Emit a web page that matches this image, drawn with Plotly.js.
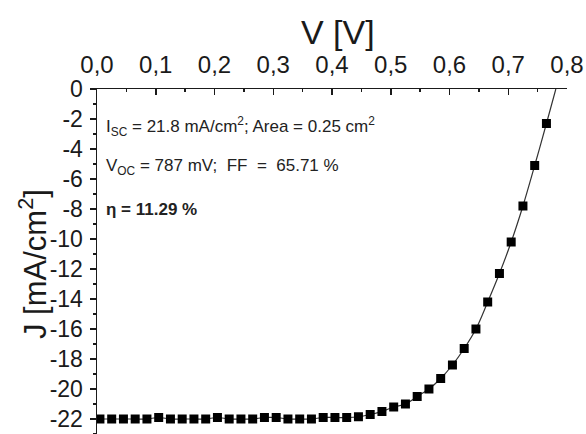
<!DOCTYPE html>
<html>
<head>
<meta charset="utf-8">
<script src="https://cdn.plot.ly/plotly-3.0.1.min.js"></script>
<style>html,body{margin:0;padding:0;background:#fff;}#chart{width:586px;height:434px;}</style>
</head>
<body>
<div id="chart"></div>
<script>
// Measured J-V points (V in volts, J in mA/cm^2)
const voltage = [0.005,0.025,0.045,0.065,0.085,0.105,0.125,0.145,0.165,0.185,0.205,0.225,0.245,0.265,0.285,0.305,0.325,0.345,0.365,0.385,0.405,0.425,0.445,0.465,0.485,0.505,0.525,0.545,0.565,0.585,0.605,0.625,0.645,0.665,0.685,0.705,0.725,0.745,0.765];
const current = [-22.0,-22.0,-22.0,-22.0,-22.0,-21.9,-22.0,-22.0,-22.0,-22.0,-21.9,-22.0,-22.0,-22.0,-21.9,-21.9,-22.0,-22.0,-22.0,-21.9,-21.9,-21.9,-21.85,-21.7,-21.5,-21.2,-21.0,-20.5,-20.0,-19.3,-18.4,-17.3,-16.0,-14.2,-12.3,-10.2,-7.8,-5.1,-2.3];
// Fitted curve reaching open-circuit voltage
const fitV = voltage.concat([0.781]);
const fitJ = current.concat([0]);

const xTickVals = [0,0.1,0.2,0.3,0.4,0.5,0.6,0.7,0.8];
const xTickText = ['0,0','0,1','0,2','0,3','0,4','0,5','0,6','0,7','0,8'];
const yTickVals = [0,-2,-4,-6,-8,-10,-12,-14,-16,-18,-20,-22];
const yTickText = ['0','-2','-4','-6','-8','-10','-12','-14','-16','-18','-20','-22'];

const textLines = [
  'I<sub>SC</sub> = 21.8 mA/cm<sup>2</sup>; Area = 0.25 cm<sup>2</sup>',
  'V<sub>OC</sub> = 787 mV;  FF  =  65.71 %',
  '<b>η = 11.29 %</b>'
];
const textY = [-2.5, -5.2, -8.0];

const font = 'Liberation Sans, Arial, sans-serif';
const ink = '#1a1a1a';

const traces = [
  {x: fitV, y: fitJ, mode: 'lines', line: {color: '#333', width: 1.2, shape: 'spline'}, hoverinfo: 'skip', showlegend: false},
  {x: voltage, y: current, mode: 'markers', marker: {symbol: 'square', size: 9, color: '#000'}, showlegend: false}
];

const L = 97, R = 567, T = 89, B = 434;
const px = v => (v - L) / (R - L);
const py = v => (B - v) / (B - T);

const annotations = textLines.map((t, i) => ({
  x: 0.012, y: textY[i], xref: 'x', yref: 'y', text: t, showarrow: false,
  xanchor: 'left', yanchor: 'middle', font: {family: font, size: 17, color: '#222'}
}));
annotations.push({
  x: px(33), y: py(264), xref: 'paper', yref: 'paper', text: 'J [mA/cm<sup>2</sup>]', showarrow: false,
  textangle: -90, xanchor: 'center', yanchor: 'middle', font: {family: font, size: 31, color: ink}
});
annotations.push({
  x: px(338), y: py(32), xref: 'paper', yref: 'paper', text: 'V [V]', showarrow: false,
  xanchor: 'center', yanchor: 'middle', font: {family: font, size: 34, color: ink}
});

const layout = {
  width: 586, height: 434,
  margin: {l: L, r: 586 - R, t: T, b: 0},
  paper_bgcolor: '#fff', plot_bgcolor: '#fff',
  font: {family: font, color: ink},
  xaxis: {
    side: 'top', range: [0, 0.8], tickvals: xTickVals, ticktext: xTickText,
    ticks: 'inside', ticklen: 6, tickwidth: 1.5, tickcolor: ink,
    minor: {dtick: 0.05, ticks: 'inside', ticklen: 3, tickcolor: ink},
    showgrid: false, zeroline: false, showline: true, linecolor: ink, linewidth: 1.5,
    tickfont: {size: 24, family: font, color: ink}, ticklabelstandoff: 5
  },
  yaxis: {
    range: [-23, 0], tickvals: yTickVals, ticktext: yTickText,
    ticks: 'outside', ticklen: 6, tickwidth: 1.5, tickcolor: ink,
    minor: {dtick: 1, ticks: 'outside', ticklen: 3, tickcolor: ink},
    showgrid: false, zeroline: false, showline: true, linecolor: ink, linewidth: 1.5,
    tickfont: {size: 23, family: font, color: ink}, ticklabelstandoff: 2
  },
  annotations: annotations
};

Plotly.newPlot('chart', traces, layout, {displayModeBar: false, staticPlot: true});
</script>
</body>
</html>
